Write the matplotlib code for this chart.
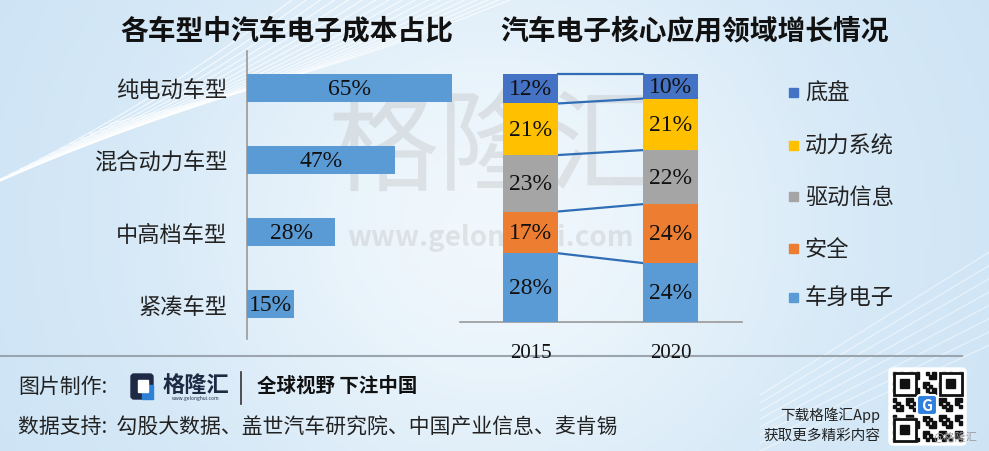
import numpy as np
import matplotlib
matplotlib.use('Agg')
import matplotlib.pyplot as plt
from matplotlib.patches import FancyBboxPatch, Rectangle, Polygon

plt.rcParams['font.family'] = ['Noto Sans CJK SC', 'DejaVu Sans']

## Data
car_types = ['纯电动车型', '混合动力车型', '中高档车型', '紧凑车型']
car_share = [65, 47, 28, 15]

years = ['2015', '2020']
segments = ['车身电子', '安全', '驱动信息', '动力系统', '底盘']   # bottom -> top
seg_2015 = [28, 17, 23, 21, 12]
seg_2020 = [24, 24, 22, 21, 10]
seg_colors = ['#5b9bd5', '#ed7d31', '#a5a5a5', '#ffc000', '#4472c4']

title_left = '各车型中汽车电子成本占比'
title_right = '汽车电子核心应用领域增长情况'
maker_label = '图片制作:'
slogan = '全球视野 下注中国'
source_text = '数据支持:  勾股大数据、盖世汽车研究院、中国产业信息、麦肯锡'

W, H = 989, 452
SERIF = 'Liberation Serif'

def box(x0, y0, x1, y1):
    return [x0 / W, 1 - y1 / H, (x1 - x0) / W, (y1 - y0) / H]

fig = plt.figure(figsize=(W / 100, H / 100), dpi=100)

## Background
bg = fig.add_axes([0, 0, 1, 1])
bg.set_xlim(0, W)
bg.set_ylim(H, 0)
bg.axis('off')
gx = np.linspace(0, 1, 200)
gy = np.linspace(0, 1, 100)
XX, YY = np.meshgrid(gx, gy)
light = np.exp(-((XX - 0.5) ** 2) / 0.12 - ((YY - 0.5) ** 2) / 0.5)
c0 = np.array([0.80, 0.89, 0.96])
c1 = np.array([0.94, 0.97, 0.99])
grad = c0[None, None, :] * (1 - light[..., None]) + c1[None, None, :] * light[..., None]
bg.imshow(grad, extent=[0, W, H, 0], aspect='auto', zorder=0)

# decorative swoosh lines top left and bottom right
t = np.linspace(0, 1, 60)
for k in range(18):
    x0 = -60 + k * 10
    xs = x0 + t * (420 + k * 8)
    ys = 210 - k * 5 - t * (260 - k * 4) + 18 * np.sin(np.pi * t)
    bg.plot(xs, ys, color='white', lw=0.9, alpha=0.7, zorder=1)
for k in range(8):
    xs = 760 + t * 260
    ys = 452 - k * 8 - t * (120 + k * 6)
    bg.plot(xs, ys, color='white', lw=0.8, alpha=0.55, zorder=1)

# watermark
bg.text(495, 150, '格隆汇', fontsize=80, color='#bcbcbc', alpha=0.35,
        ha='center', va='center', zorder=2)
bg.text(490, 238, 'www.gelonghui.com', fontsize=20, fontweight='bold',
        color='#bcbcbc', alpha=0.35, ha='center', va='center', zorder=2)

# titles
bg.text(287, 31, title_left, fontsize=20, fontweight='bold', color='#111111',
        ha='center', va='center', zorder=3)
bg.text(695, 31, title_right, fontsize=20, fontweight='bold', color='#111111',
        ha='center', va='center', zorder=3)

## Left chart: horizontal bars
ax1 = fig.add_axes(box(247, 52, 455, 340))
ax1.patch.set_alpha(0)
ypos = np.arange(len(car_types))
ax1.barh(ypos, car_share, height=0.39, color='#5b9bd5', zorder=3)
for y, v in zip(ypos, car_share):
    ax1.text(v / 2, y, f'{v}%', fontsize=17, family=SERIF, color='#111111',
             ha='center', va='center', zorder=4)
ax1.set_xlim(0, 66)
ax1.set_ylim(3.486, -0.514)
ax1.set_yticks(ypos)
ax1.set_yticklabels(car_types, fontsize=16, color='#222222')
ax1.tick_params(axis='y', length=0, pad=14)
ax1.set_xticks([])
for s in ['top', 'right', 'bottom']:
    ax1.spines[s].set_visible(False)
ax1.spines['left'].set_color('#999999')
ax1.spines['left'].set_linewidth(1.2)

## Right chart: stacked bars
ax2 = fig.add_axes(box(460, 75, 742, 323))
ax2.patch.set_alpha(0)
xpos = np.arange(len(years))
bw = 0.393
stacks = np.array([seg_2015, seg_2020])
bottoms = np.zeros(len(years))
for j, name in enumerate(segments):
    vals = stacks[:, j]
    ax2.bar(xpos, vals, bottom=bottoms, width=bw, color=seg_colors[j], zorder=3)
    for x, b, v in zip(xpos, bottoms, vals):
        ax2.text(x, b + v / 2, f'{v}%', fontsize=17, family=SERIF, color='#111111',
                 ha='center', va='center', zorder=4)
    bottoms = bottoms + vals
# series lines between stacks
cum = np.cumsum(stacks, axis=1)
for j in range(len(segments)):
    ax2.plot([xpos[0] + bw / 2, xpos[1] - bw / 2], [cum[0, j], cum[1, j]],
             color='#2f6eb5', lw=1.6, zorder=2, clip_on=False)
ax2.set_xlim(-0.504, 1.511)
ax2.set_ylim(0, 101)
ax2.set_xticks(xpos)
ax2.set_xticklabels(years, fontsize=15, family=SERIF, color='#111111')
ax2.tick_params(axis='x', length=0, pad=15)
ax2.set_yticks([])
for s in ['top', 'right', 'left']:
    ax2.spines[s].set_visible(False)
ax2.spines['bottom'].set_color('#999999')
ax2.spines['bottom'].set_linewidth(1.2)

# legend (top -> bottom)
leg_y = [93, 146, 197, 249, 298]
for k, j in enumerate(range(len(segments) - 1, -1, -1)):
    bg.add_patch(Rectangle((789, leg_y[k] - 4.5), 9, 9, color=seg_colors[j], zorder=3))
    bg.text(805, leg_y[k], segments[j], fontsize=16, color='#222222',
            ha='left', va='center', zorder=3)

## Footer
bg.plot([0, 962], [357, 357], color='#9aa5b0', lw=1.5, zorder=3)
bg.text(18, 387, maker_label, fontsize=15, color='#222222', ha='left', va='center', zorder=3)
# logo
bg.add_patch(FancyBboxPatch((131, 375), 22, 25, boxstyle='round,pad=0,rounding_size=3',
                            color='#1e2a44', zorder=3))
bg.add_patch(Polygon([[142, 386], [153, 386], [153, 400], [142, 400]],
                     color='#2e7fd6', zorder=4))
bg.add_patch(Rectangle((138, 381), 10, 12, color='white', zorder=4))
bg.text(196, 385, '格隆汇', fontsize=16, fontweight='bold', color='#1e2a44',
        ha='center', va='center', zorder=3)
bg.text(196, 399, 'www.gelonghui.com', fontsize=3.5, color='#1e2a44',
        ha='center', va='center', zorder=3)
bg.plot([241, 241], [373, 405], color='#333333', lw=1.2, zorder=3)
bg.text(257, 386, slogan, fontsize=14, fontweight='bold', color='#111111',
        ha='left', va='center', zorder=3)
bg.text(18, 428, source_text, fontsize=15, color='#222222', ha='left', va='center', zorder=3)

bg.text(880, 415, '下载格隆汇App', fontsize=10.5, color='#222222', ha='right', va='center', zorder=3)
bg.text(880, 436, '获取更多精彩内容', fontsize=10.5, color='#222222', ha='right', va='center', zorder=3)

# QR code block
bg.add_patch(FancyBboxPatch((889, 369), 77, 77, boxstyle='round,pad=0,rounding_size=4',
                            color='white', zorder=3))
n = 21
cell = 69 / n
for i in range(n):
    for j in range(n):
        if ((i * 7 + j * 13 + i * j) % 5) < 2:
            bg.add_patch(Rectangle((893 + j * cell, 373 + i * cell), cell, cell,
                                   color='#111111', zorder=4))
for fx, fy in [(893, 373), (893 + 14 * cell, 373), (893, 373 + 14 * cell)]:
    bg.add_patch(Rectangle((fx, fy), 7 * cell, 7 * cell, color='white', zorder=5))
    bg.add_patch(Rectangle((fx + 0.5, fy + 0.5), 7 * cell - 1, 7 * cell - 1,
                           fill=False, ec='#111111', lw=2, zorder=6))
    bg.add_patch(Rectangle((fx + 2 * cell, fy + 2 * cell), 3 * cell, 3 * cell,
                           color='#111111', zorder=6))
bg.add_patch(FancyBboxPatch((917, 396), 20, 20, boxstyle='round,pad=0,rounding_size=3',
                            color='#2f80e0', ec='white', lw=1.5, zorder=7))
bg.text(927, 406, 'G', fontsize=11, fontweight='bold', color='white',
        ha='center', va='center', zorder=8)
bg.text(955, 437, '@格隆汇', fontsize=8, color='#9a9a9a', ha='center', va='center', zorder=8)

fig.savefig('out.png', dpi=100)
